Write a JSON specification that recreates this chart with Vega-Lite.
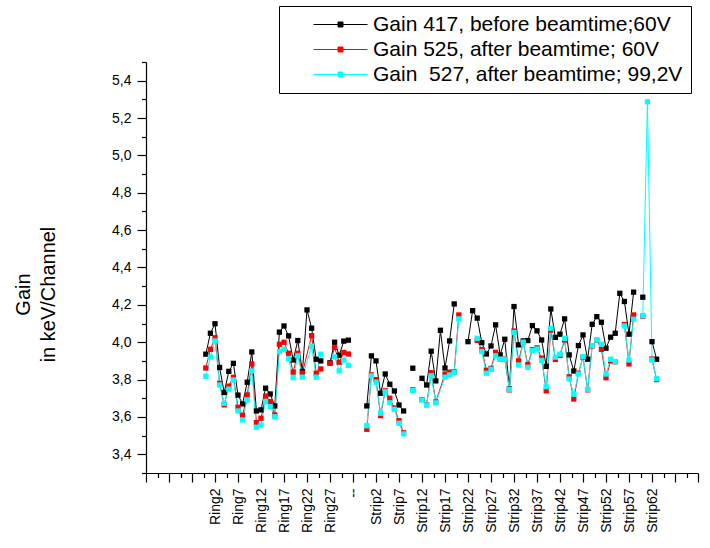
{
  "$schema": "https://vega.github.io/schema/vega-lite/v6.json",
  "width": 552,
  "height": 411,
  "autosize": {"type": "none"},
  "padding": {"left": 146, "top": 62, "right": 12, "bottom": 75},
  "background": "white",
  "config": {"view": {"stroke": null}, "font": "Liberation Sans"},
  "data": {"values": [
    {"i":0,"s":"a","g":3.936},{"i":1,"s":"a","g":4.048},{"i":2,"s":"a","g":4.099},{"i":3,"s":"a","g":3.865},{"i":4,"s":"a","g":3.731},{"i":5,"s":"a","g":3.844},{"i":6,"s":"a","g":3.887},{"i":7,"s":"a","g":3.717},{"i":8,"s":"a","g":3.670},{"i":9,"s":"a","g":3.786},{"i":10,"s":"a","g":3.948},{"i":11,"s":"a","g":3.632},{"i":12,"s":"a","g":3.638},{"i":13,"s":"a","g":3.754},{"i":14,"s":"a","g":3.723},{"i":15,"s":"a","g":3.659},{"i":16,"s":"a","g":4.054},{"i":17,"s":"a","g":4.087},{"i":18,"s":"a","g":4.034},{"i":19,"s":"a","g":3.905},{"i":20,"s":"a","g":4.009},{"i":21,"s":"a","g":3.843},{"i":22,"s":"a","g":4.173},{"i":23,"s":"a","g":4.075},{"i":24,"s":"a","g":3.909},{"i":25,"s":"a","g":3.900},{"i":26,"s":"a","g":null},{"i":27,"s":"a","g":3.89},{"i":28,"s":"a","g":4.000},{"i":29,"s":"a","g":3.930},{"i":30,"s":"a","g":4.006},{"i":31,"s":"a","g":4.011},{"i":32,"s":"a","g":null},
    {"i":35,"s":"a","g":3.659},{"i":36,"s":"a","g":3.927},{"i":37,"s":"a","g":3.900},{"i":38,"s":"a","g":3.727},{"i":39,"s":"a","g":3.830},{"i":40,"s":"a","g":3.775},{"i":41,"s":"a","g":3.739},{"i":42,"s":"a","g":3.664},{"i":43,"s":"a","g":3.632},{"i":44,"s":"a","g":null},{"i":45,"s":"a","g":3.861},{"i":46,"s":"a","g":null},{"i":47,"s":"a","g":3.807},{"i":48,"s":"a","g":3.771},{"i":49,"s":"a","g":3.952},{"i":50,"s":"a","g":3.793},{"i":51,"s":"a","g":4.064},{"i":52,"s":"a","g":3.862},{"i":53,"s":"a","g":4.007},{"i":54,"s":"a","g":4.205},{"i":55,"s":"a","g":null},{"i":57,"s":"a","g":4.003},{"i":58,"s":"a","g":4.169},{"i":59,"s":"a","g":4.129},{"i":60,"s":"a","g":3.998},{"i":61,"s":"a","g":3.937},{"i":62,"s":"a","g":3.980},{"i":63,"s":"a","g":4.093},{"i":64,"s":"a","g":3.932},{"i":65,"s":"a","g":4.016},{"i":66,"s":"a","g":3.750},{"i":67,"s":"a","g":4.191},{"i":68,"s":"a","g":3.986},{"i":69,"s":"a","g":4.007},{"i":70,"s":"a","g":4.009},{"i":71,"s":"a","g":4.089},{"i":72,"s":"a","g":4.061},{"i":73,"s":"a","g":4.012},{"i":74,"s":"a","g":3.871},{"i":75,"s":"a","g":4.178},{"i":76,"s":"a","g":4.026},{"i":77,"s":"a","g":4.043},{"i":78,"s":"a","g":4.125},{"i":79,"s":"a","g":3.932},{"i":80,"s":"a","g":3.846},{"i":81,"s":"a","g":3.982},{"i":82,"s":"a","g":4.039},{"i":83,"s":"a","g":3.909},{"i":84,"s":"a","g":4.096},{"i":85,"s":"a","g":4.137},{"i":86,"s":"a","g":4.107},{"i":87,"s":"a","g":3.968},{"i":88,"s":"a","g":4.027},{"i":89,"s":"a","g":4.048},{"i":90,"s":"a","g":4.262},{"i":91,"s":"a","g":4.218},{"i":92,"s":"a","g":4.043},{"i":93,"s":"a","g":4.268},{"i":94,"s":"a","g":null},{"i":95,"s":"a","g":4.241},{"i":96,"s":"a","g":null},{"i":97,"s":"a","g":4.003},{"i":98,"s":"a","g":3.909},

    {"i":0,"s":"b","g":3.862},{"i":1,"s":"b","g":3.962},{"i":2,"s":"b","g":4.024},{"i":3,"s":"b","g":3.780},{"i":4,"s":"b","g":3.665},{"i":5,"s":"b","g":3.765},{"i":6,"s":"b","g":3.812},{"i":7,"s":"b","g":3.652},{"i":8,"s":"b","g":3.609},{"i":9,"s":"b","g":3.718},{"i":10,"s":"b","g":3.884},{"i":11,"s":"b","g":3.570},{"i":12,"s":"b","g":3.593},{"i":13,"s":"b","g":3.712},{"i":14,"s":"b","g":3.682},{"i":15,"s":"b","g":3.611},{"i":16,"s":"b","g":3.989},{"i":17,"s":"b","g":4.000},{"i":18,"s":"b","g":3.941},{"i":19,"s":"b","g":3.840},{"i":20,"s":"b","g":3.941},{"i":21,"s":"b","g":3.835},{"i":23,"s":"b","g":4.035},{"i":24,"s":"b","g":3.834},{"i":25,"s":"b","g":3.857},{"i":26,"s":"b","g":null},{"i":27,"s":"b","g":3.887},{"i":28,"s":"b","g":3.972},{"i":29,"s":"b","g":3.893},{"i":30,"s":"b","g":3.945},{"i":31,"s":"b","g":3.937},{"i":32,"s":"b","g":null},
    {"i":35,"s":"b","g":3.534},{"i":36,"s":"b","g":3.825},{"i":37,"s":"b","g":3.800},{"i":38,"s":"b","g":3.607},{"i":39,"s":"b","g":3.740},{"i":40,"s":"b","g":3.700},{"i":41,"s":"b","g":3.648},{"i":42,"s":"b","g":3.580},{"i":43,"s":"b","g":3.515},{"i":44,"s":"b","g":null},{"i":45,"s":"b","g":3.745},{"i":46,"s":"b","g":null},{"i":47,"s":"b","g":3.693},{"i":48,"s":"b","g":3.666},{"i":49,"s":"b","g":3.837},{"i":50,"s":"b","g":3.680},{"i":52,"s":"b","g":3.830},{"i":53,"s":"b","g":3.840},{"i":54,"s":"b","g":3.842},{"i":55,"s":"b","g":4.146},{"i":56,"s":"b","g":null},{"i":59,"s":"b","g":4.010},{"i":60,"s":"b","g":3.960},{"i":61,"s":"b","g":3.850},{"i":62,"s":"b","g":3.860},{"i":63,"s":"b","g":3.946},{"i":64,"s":"b","g":3.910},{"i":65,"s":"b","g":3.910},{"i":66,"s":"b","g":3.745},{"i":67,"s":"b","g":4.060},{"i":68,"s":"b","g":3.900},{"i":69,"s":"b","g":4.000},{"i":70,"s":"b","g":3.880},{"i":71,"s":"b","g":3.960},{"i":72,"s":"b","g":3.970},{"i":73,"s":"b","g":3.915},{"i":74,"s":"b","g":3.740},{"i":75,"s":"b","g":4.065},{"i":76,"s":"b","g":3.908},{"i":77,"s":"b","g":3.930},{"i":78,"s":"b","g":4.012},{"i":79,"s":"b","g":3.815},{"i":80,"s":"b","g":3.696},{"i":81,"s":"b","g":3.834},{"i":82,"s":"b","g":3.920},{"i":83,"s":"b","g":3.745},{"i":84,"s":"b","g":3.980},{"i":85,"s":"b","g":4.010},{"i":86,"s":"b","g":3.962},{"i":87,"s":"b","g":3.810},{"i":88,"s":"b","g":3.900},{"i":89,"s":"b","g":3.895},{"i":90,"s":"b","g":null},{"i":91,"s":"b","g":4.095},{"i":92,"s":"b","g":3.884},{"i":93,"s":"b","g":4.146},{"i":94,"s":"b","g":null},{"i":95,"s":"b","g":4.140},{"i":96,"s":"b","g":null},{"i":97,"s":"b","g":3.910},{"i":98,"s":"b","g":3.800},

    {"i":0,"s":"c","g":3.818},{"i":1,"s":"c","g":3.920},{"i":2,"s":"c","g":4.007},{"i":3,"s":"c","g":3.771},{"i":4,"s":"c","g":3.673},{"i":5,"s":"c","g":3.749},{"i":6,"s":"c","g":3.798},{"i":7,"s":"c","g":3.632},{"i":8,"s":"c","g":3.584},{"i":9,"s":"c","g":3.691},{"i":10,"s":"c","g":3.846},{"i":11,"s":"c","g":3.545},{"i":12,"s":"c","g":3.557},{"i":13,"s":"c","g":3.682},{"i":14,"s":"c","g":3.655},{"i":15,"s":"c","g":3.601},{"i":16,"s":"c","g":3.950},{"i":17,"s":"c","g":3.962},{"i":18,"s":"c","g":3.911},{"i":19,"s":"c","g":3.810},{"i":20,"s":"c","g":3.927},{"i":21,"s":"c","g":3.813},{"i":23,"s":"c","g":3.979},{"i":24,"s":"c","g":3.813},{"i":25,"s":"c","g":3.936},{"i":26,"s":"c","g":null},{"i":28,"s":"c","g":3.922},{"i":29,"s":"c","g":3.847},{"i":30,"s":"c","g":3.905},{"i":31,"s":"c","g":3.876},{"i":32,"s":"c","g":null},
    {"i":35,"s":"c","g":3.553},{"i":36,"s":"c","g":3.820},{"i":37,"s":"c","g":3.786},{"i":38,"s":"c","g":3.620},{"i":39,"s":"c","g":3.735},{"i":40,"s":"c","g":3.676},{"i":41,"s":"c","g":3.641},{"i":42,"s":"c","g":3.566},{"i":43,"s":"c","g":3.509},{"i":44,"s":"c","g":null},{"i":45,"s":"c","g":3.741},{"i":46,"s":"c","g":null},{"i":47,"s":"c","g":3.691},{"i":48,"s":"c","g":3.664},{"i":49,"s":"c","g":3.820},{"i":50,"s":"c","g":3.676},{"i":52,"s":"c","g":3.813},{"i":53,"s":"c","g":3.825},{"i":54,"s":"c","g":3.839},{"i":55,"s":"c","g":4.125},{"i":56,"s":"c","g":null},{"i":59,"s":"c","g":4.021},{"i":60,"s":"c","g":3.950},{"i":61,"s":"c","g":3.834},{"i":62,"s":"c","g":3.855},{"i":63,"s":"c","g":3.927},{"i":64,"s":"c","g":3.909},{"i":65,"s":"c","g":3.909},{"i":66,"s":"c","g":3.748},{"i":67,"s":"c","g":4.052},{"i":68,"s":"c","g":3.878},{"i":69,"s":"c","g":4.000},{"i":70,"s":"c","g":3.866},{"i":71,"s":"c","g":3.955},{"i":72,"s":"c","g":3.964},{"i":73,"s":"c","g":3.903},{"i":74,"s":"c","g":3.762},{"i":75,"s":"c","g":4.075},{"i":76,"s":"c","g":3.920},{"i":77,"s":"c","g":3.936},{"i":78,"s":"c","g":4.021},{"i":79,"s":"c","g":3.803},{"i":80,"s":"c","g":3.721},{"i":81,"s":"c","g":3.830},{"i":82,"s":"c","g":3.923},{"i":83,"s":"c","g":3.748},{"i":84,"s":"c","g":3.982},{"i":85,"s":"c","g":4.012},{"i":86,"s":"c","g":3.989},{"i":87,"s":"c","g":3.830},{"i":88,"s":"c","g":3.909},{"i":89,"s":"c","g":3.896},{"i":90,"s":"c","g":null},{"i":91,"s":"c","g":4.087},{"i":92,"s":"c","g":3.905},{"i":93,"s":"c","g":4.123},{"i":94,"s":"c","g":null},{"i":95,"s":"c","g":4.143},{"i":96,"s":"c","g":5.287},{"i":97,"s":"c","g":3.905},{"i":98,"s":"c","g":3.805}
  ]},
  "mark": {
    "type": "line",
    "strokeWidth": 1,
    "invalid": "break-paths-filter-domains",
    "point": {"shape": "square", "size": 28, "filled": true, "strokeWidth": 0, "opacity": 1}
  },
  "encoding": {
    "x": {
      "field": "i",
      "type": "quantitative",
      "scale": {"domain": [-13, 107], "nice": false, "zero": false},
      "axis": {
        "title": null,
        "values": [-13, -10.5, -8, -5.5, -3, -0.5, 2, 4.5, 7, 9.5, 12, 14.5, 17, 19.5, 22, 24.5, 27, 29.5, 32, 34.5, 37, 39.5, 42, 44.5, 47, 49.5, 52, 54.5, 57, 59.5, 62, 64.5, 67, 69.5, 72, 74.5, 77, 79.5, 82, 84.5, 87, 89.5, 92, 94.5, 97, 99.5, 102, 104.5, 107],
        "labelExpr": "(datum.value % 1 !== 0 || datum.value < 2 || datum.value > 97) ? '' : (datum.value <= 27 ? 'Ring' + datum.value : (datum.value === 32 ? '--' : 'Strip' + (datum.value - 35)))",
        "labelAngle": -90,
        "labelFontSize": 14,
        "labelColor": "black",
        "labelPadding": 6,
        "labelOverlap": false,
        "labelFlush": false,
        "labelBound": false,
        "tickSize": {"condition": {"test": "datum.value % 1 === 0", "value": 9}, "value": 4.5},
        "tickColor": "black",
        "tickWidth": 1.2,
        "domainColor": "black",
        "domainWidth": 1.2,
        "grid": false
      }
    },
    "y": {
      "field": "g",
      "type": "quantitative",
      "scale": {"domain": [3.3, 5.5], "nice": false, "zero": false},
      "axis": {
        "title": ["Gain", "in keV/Channel"],
        "titleFontSize": 20,
        "titleFontWeight": "normal",
        "titleColor": "black",
        "titleLineHeight": 25,
        "titleAngle": -90,
        "titleAlign": "center",
        "titleBaseline": "middle",
        "titleX": -123,
        "titleY": 232,
        "values": [3.3, 3.4, 3.5, 3.6, 3.7, 3.8, 3.9, 4.0, 4.1, 4.2, 4.3, 4.4, 4.5, 4.6, 4.7, 4.8, 4.9, 5.0, 5.1, 5.2, 5.3, 5.4, 5.5],
        "labelExpr": "round(datum.value * 10) % 2 === 0 ? replace(format(datum.value, '.1f'), '.', ',') : ''",
        "labelFontSize": 14,
        "labelColor": "black",
        "labelPadding": 6,
        "labelOverlap": false,
        "labelFlush": false,
        "tickSize": {"condition": {"test": "round(datum.value * 10) % 2 === 0", "value": 9}, "value": 4.5},
        "tickColor": "black",
        "tickWidth": 1.2,
        "domainColor": "black",
        "domainWidth": 1.2,
        "grid": false
      }
    },
    "color": {
      "field": "s",
      "type": "nominal",
      "sort": null,
      "scale": {"domain": ["a", "b", "c"], "range": ["#000000", "#ff0000", "#00ffff"]},
      "legend": {
        "orient": "none",
        "legendX": 133,
        "legendY": -56,
        "title": null,
        "direction": "vertical",
        "labelExpr": "datum.value === 'a' ? 'Gain 417, before beamtime;60V' : (datum.value === 'b' ? 'Gain 525, after beamtime; 60V' : 'Gain\u00a0 527, after beamtime; 99,2V')",
        "symbolType": "M-1,0M1.6,0H7M4.05,-0.25H4.55V0.25H4.05Z",
        "symbolSize": 400,
        "symbolStrokeWidth": 1,
        "symbolOpacity": 1,
        "labelFontSize": 21,
        "labelColor": "black",
        "labelOffset": 65,
        "labelLimit": 700,
        "padding": 8,
        "rowPadding": 3,
        "strokeColor": "black",
        "fillColor": "white",
        "encode": {"symbols": {"update": {"fill": {"scale": "color", "field": "value"}, "stroke": {"scale": "color", "field": "value"}}}}
      }
    }
  }
}
